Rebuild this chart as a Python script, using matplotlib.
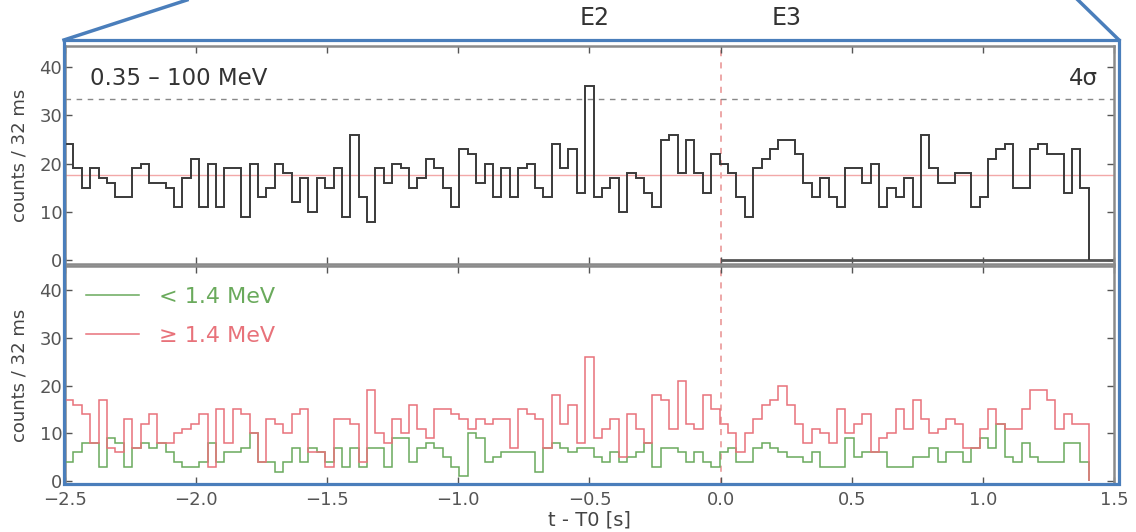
import numpy as np
import matplotlib.pyplot as plt
from matplotlib.lines import Line2D
from matplotlib.patches import Rectangle

# light curve, 32 ms bins starting at t - T0 = -2.5 s
bin_width = 0.032
t_start = -2.5

counts_all = [24, 19, 15, 19, 17, 16, 13, 13, 19, 20, 16, 16, 15, 11, 17, 21, 11, 20, 11, 19,
              19, 9, 20, 13, 15, 20, 18, 12, 17, 10, 17, 15, 19, 9, 26, 13, 8, 19, 16, 20,
              19, 15, 17, 21, 19, 15, 11, 23, 22, 16, 20, 13, 19, 13, 19, 20, 15, 13, 24, 19,
              23, 14, 36, 13, 15, 17, 10, 18, 17, 14, 11, 25, 26, 18, 25, 18, 14, 22, 20, 18,
              13, 9, 19, 21, 23, 25, 25, 22, 16, 13, 17, 13, 11, 19, 19, 16, 20, 11, 15, 13,
              17, 11, 26, 19, 16, 16, 18, 18, 11, 13, 21, 23, 24, 15, 15, 23, 24, 22, 22, 14,
              23, 15]

counts_low = [4, 6, 8, 8, 3, 9, 8, 3, 7, 8, 7, 8, 6, 4, 3, 3, 4, 8, 4, 6,
              6, 7, 10, 4, 4, 2, 4, 7, 4, 7, 6, 4, 7, 3, 7, 3, 7, 7, 3, 9,
              9, 4, 7, 8, 7, 5, 3, 1, 10, 9, 4, 5, 6, 6, 6, 6, 2, 7, 8, 7,
              6, 7, 7, 5, 4, 6, 4, 5, 6, 8, 3, 7, 7, 6, 4, 6, 4, 3, 6, 7,
              4, 4, 7, 8, 7, 6, 5, 5, 4, 6, 3, 3, 3, 9, 5, 6, 6, 6, 3, 3,
              3, 5, 5, 7, 4, 6, 6, 4, 7, 9, 7, 12, 5, 4, 8, 5, 4, 4, 4, 8,
              8, 4]

counts_high = [17, 16, 14, 8, 17, 7, 6, 13, 7, 12, 14, 8, 8, 10, 11, 12, 14, 3, 15, 8,
               15, 14, 10, 4, 13, 12, 10, 14, 15, 6, 6, 3, 13, 13, 12, 4, 19, 10, 8, 13,
               10, 16, 11, 9, 15, 15, 14, 13, 11, 13, 12, 13, 13, 7, 15, 14, 13, 7, 18, 12,
               16, 8, 26, 9, 11, 13, 5, 14, 11, 8, 18, 17, 11, 21, 12, 11, 18, 15, 12, 10,
               6, 10, 13, 16, 17, 20, 16, 12, 8, 11, 10, 8, 15, 10, 12, 14, 6, 9, 10, 15,
               11, 17, 13, 10, 11, 13, 12, 7, 7, 11, 15, 12, 11, 11, 15, 19, 19, 17, 11, 14,
               12, 12]

mean_level = 17.6
sigma4_level = 33.5
event_names = ["E2", "E3"]
event_times = [-0.48, 0.25]
x_ticks = [-2.5, -2.0, -1.5, -1.0, -0.5, 0.0, 0.5, 1.0, 1.5]
y_ticks = [0, 10, 20, 30, 40]

edges = t_start + bin_width * np.arange(len(counts_all) + 1)

fig = plt.figure(figsize=(11.36, 5.32), dpi=100)
ax1 = fig.add_axes([0.0572, 0.5038, 0.9234, 0.4098])
ax2 = fig.add_axes([0.0572, 0.0902, 0.9234, 0.4098])

tick_col = "#555555"
frame_col = "#8a8a8a"

for ax in (ax1, ax2):
    ax.set_xlim(-2.5, 1.5)
    ax.set_xticks(x_ticks)
    ax.set_yticks(y_ticks)
    ax.tick_params(direction="in", top=True, right=True, length=5, width=1,
                   colors=tick_col, labelsize=13)
    ax.tick_params(axis="y", pad=2)
    ax.tick_params(axis="x", pad=5)
    for sp in ax.spines.values():
        sp.set_color(frame_col)
        sp.set_linewidth(1.8)
    ax.axvline(0.0, color="#e89090", ls=(0, (4, 4)), lw=1.1, zorder=1)
    ax.set_ylabel("counts / 32 ms", fontsize=13, color="#444444", labelpad=8)

# top: full energy range
ax1.set_ylim(-0.8, 44.4)
ax1.tick_params(labelbottom=False)
ax1.stairs(counts_all, edges, color="#3a3a3a", lw=1.4, zorder=3)
ax1.hlines(0, 0.0, ax1.get_xlim()[1], color="#555555", lw=2.0, zorder=2)
ax1.axhline(mean_level, color="#f2a8a8", lw=1.0, zorder=1)
ax1.axhline(sigma4_level, color="#888888", ls=(0, (4, 4)), lw=1.0, zorder=1)
ax1.text(-2.405, 37.6, "0.35 \u2013 100 MeV", fontsize=16.5, color="#333333", va="center")
ax1.text(1.44, 37.6, "4\u03c3", fontsize=16.5, color="#333333", va="center", ha="right")
for name, t in zip(event_names, event_times):
    ax1.text(t, 1.128, name, transform=ax1.get_xaxis_transform(), fontsize=17,
             color="#333333", ha="center", va="center")

# bottom: split at 1.4 MeV
ax2.set_ylim(-0.6, 45)
ax2.stairs(counts_low, edges, color="#6aaa5c", lw=1.1, label="< 1.4 MeV", zorder=3)
ax2.stairs(counts_high, edges, color="#e8727a", lw=1.1, label="\u2265 1.4 MeV", zorder=3)
ax2.set_xlabel("t - T0 [s]", fontsize=14, color="#444444", labelpad=1)
leg = ax2.legend(loc="upper left", frameon=False, fontsize=16, handlelength=2.4,
                 handletextpad=0.9, labelspacing=0.85, borderaxespad=0.55,
                 labelcolor="linecolor")

# blue zoom frame around both panels
fw, fh = fig.get_size_inches() * fig.dpi
p1 = ax1.get_position()
p2 = ax2.get_position()
left = p1.x0 - 1 / fw
right = p1.x1 + 5 / fw
top = p1.y1 + 6 / fh
bottom = p2.y0
blue = "#4a7ebb"
fig.add_artist(Rectangle((left, bottom), right - left, top - bottom, transform=fig.transFigure,
                         fill=False, ec=blue, lw=2.3, zorder=10))
fig.add_artist(Line2D([left, left + 123 / fw], [top, 1.0], transform=fig.transFigure,
                      color=blue, lw=2.5, zorder=10))
fig.add_artist(Line2D([right, right - 41 / fw], [top, 1.0], transform=fig.transFigure,
                      color=blue, lw=2.5, zorder=10))

fig.savefig("out.png", dpi=100)
